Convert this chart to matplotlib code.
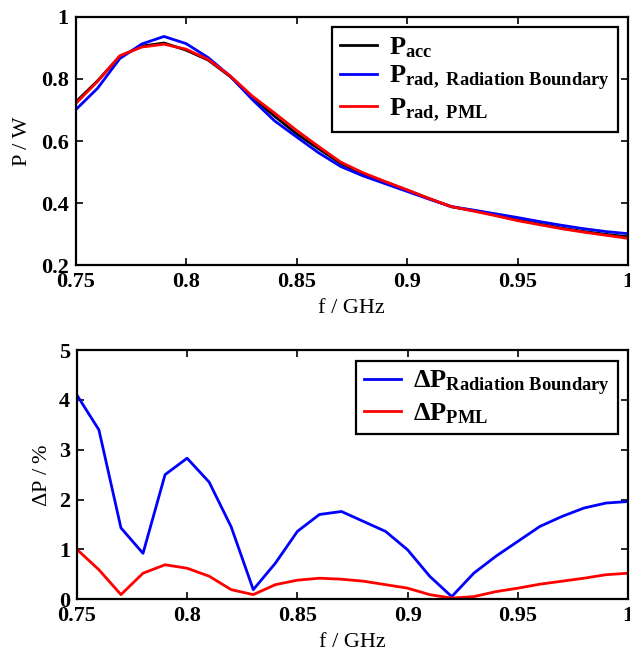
import numpy as np
import matplotlib
matplotlib.use('Agg')
import matplotlib.pyplot as plt

plt.rcParams['font.family'] = ['Liberation Serif', 'DejaVu Serif']
plt.rcParams['font.weight'] = 'bold'
plt.rcParams['mathtext.fontset'] = 'custom'
plt.rcParams['mathtext.rm'] = 'Liberation Serif:bold'
plt.rcParams['mathtext.it'] = 'Liberation Serif:bold'
plt.rcParams['mathtext.bf'] = 'Liberation Serif:bold'

# frequency sweep, GHz
freq = [0.75, 0.76, 0.77, 0.78, 0.79, 0.80, 0.81, 0.82, 0.83, 0.84, 0.85, 0.86, 0.87,
        0.88, 0.89, 0.90, 0.91, 0.92, 0.93, 0.94, 0.95, 0.96, 0.97, 0.98, 0.99, 1.00]

# power in W
p_acc = [0.725, 0.794, 0.872, 0.905, 0.915, 0.892, 0.860, 0.807, 0.740, 0.680, 0.623, 0.575, 0.528,
         0.495, 0.468, 0.442, 0.415, 0.389, 0.376, 0.362, 0.346, 0.333, 0.320, 0.309, 0.300, 0.292]
p_rad_rb = [0.700, 0.770, 0.865, 0.912, 0.936, 0.913, 0.868, 0.808, 0.733, 0.665, 0.613, 0.562, 0.518,
            0.488, 0.463, 0.438, 0.413, 0.389, 0.378, 0.366, 0.354, 0.341, 0.329, 0.318, 0.309, 0.302]
p_rad_pml = [0.720, 0.792, 0.874, 0.902, 0.911, 0.895, 0.862, 0.809, 0.744, 0.690, 0.634, 0.582, 0.532,
             0.498, 0.470, 0.443, 0.415, 0.389, 0.375, 0.360, 0.344, 0.331, 0.318, 0.307, 0.297, 0.287]

# relative deviation in %
dp_rb = [4.10, 3.40, 1.43, 0.92, 2.50, 2.83, 2.35, 1.45, 0.19, 0.72, 1.36, 1.70, 1.76,
         1.56, 1.36, 0.99, 0.46, 0.05, 0.52, 0.86, 1.16, 1.46, 1.66, 1.83, 1.93, 1.96]
dp_pml = [1.00, 0.59, 0.09, 0.52, 0.69, 0.62, 0.46, 0.19, 0.09, 0.29, 0.38, 0.42, 0.40,
          0.36, 0.29, 0.22, 0.09, 0.02, 0.05, 0.15, 0.22, 0.30, 0.36, 0.42, 0.49, 0.52]

xticks = [0.75, 0.8, 0.85, 0.9, 0.95, 1]
xticklabels = ['0.75', '0.8', '0.85', '0.9', '0.95', '1']

fig = plt.figure(figsize=(6.3, 6.62), dpi=100)
ax1 = fig.add_axes([0.120, 0.599, 0.877, 0.376])
ax2 = fig.add_axes([0.122, 0.095, 0.875, 0.376])

fs = 16
lw = 2.0

ax1.plot(freq, p_acc, color='black', lw=lw, label=r'$\mathregular{P_{acc}}$')
ax1.plot(freq, p_rad_rb, color='blue', lw=lw, label=r'$\mathregular{P_{rad,\ Radiation\ Boundary}}$')
ax1.plot(freq, p_rad_pml, color='red', lw=lw, label=r'$\mathregular{P_{rad,\ PML}}$')
ax1.set_ylim(0.2, 1.0)
ax1.set_yticks([0.2, 0.4, 0.6, 0.8, 1.0])
ax1.set_yticklabels(['0.2', '0.4', '0.6', '0.8', '1'])
ax1.set_ylabel('P / W', fontsize=fs, labelpad=6)

ax2.plot(freq, dp_rb, color='blue', lw=lw, label=r'$\mathregular{\Delta P_{Radiation\ Boundary}}$')
ax2.plot(freq, dp_pml, color='red', lw=lw, label=r'$\mathregular{\Delta P_{PML}}$')
ax2.set_ylim(0, 5)
ax2.set_yticks([0, 1, 2, 3, 4, 5])
ax2.set_ylabel(r'$\mathregular{\Delta P}$ / %', fontsize=fs, labelpad=5)

for ax in (ax1, ax2):
    ax.set_xlim(0.75, 1.0)
    ax.set_xticks(xticks)
    ax.set_xticklabels(xticklabels)
    ax.set_xlabel('f / GHz', fontsize=fs, labelpad=5)
    ax.tick_params(direction='in', top=True, right=True, labelsize=fs, length=5, width=1.2, pad=5)
    for s in ax.spines.values():
        s.set_linewidth(1.6)
    leg = ax.legend(loc='upper right', prop={'size': 19, 'weight': 'bold'}, handlelength=1.4,
                    handletextpad=0.45, borderaxespad=0.4, borderpad=0.3,
                    fancybox=False, edgecolor='black', framealpha=1, labelspacing=0.15)
    leg.get_frame().set_linewidth(1.6)

fig.savefig('out.png', dpi=100)
